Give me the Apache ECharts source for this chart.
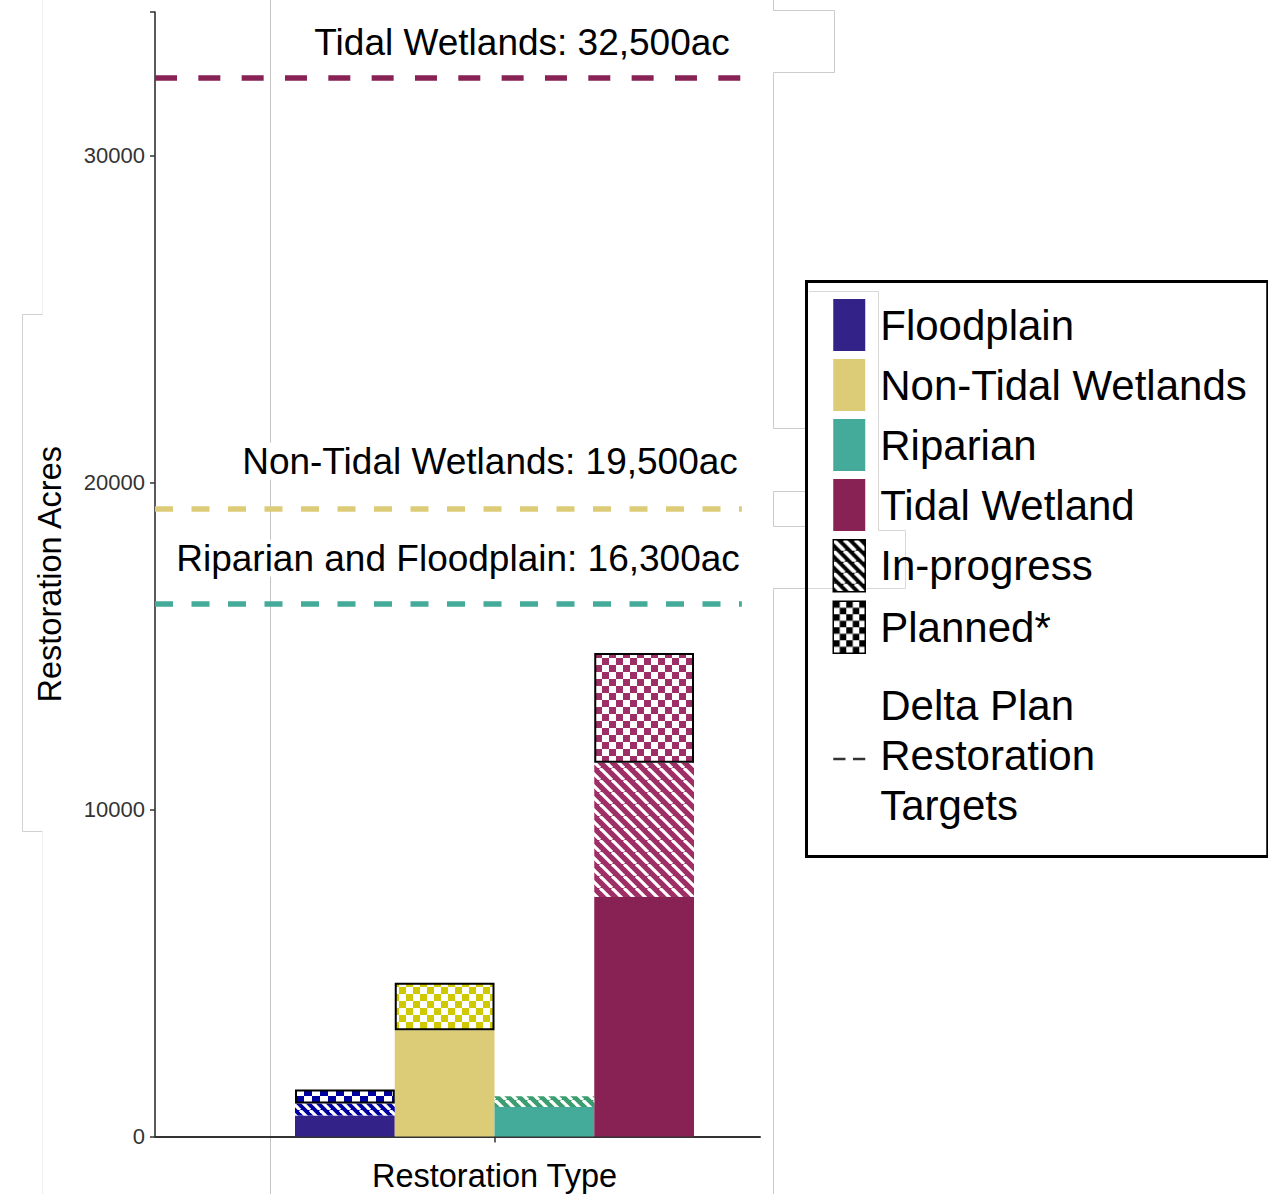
<!DOCTYPE html>
<html><head><meta charset="utf-8">
<script src="https://cdn.jsdelivr.net/npm/echarts@6/dist/echarts.min.js"></script>
<style>html,body{margin:0;padding:0;background:#fff}#c{width:1268px;height:1194px}</style>
</head><body><div id="c"></div>
<script>
// ---- data ----
const categories = ['Floodplain', 'Non-Tidal Wetlands', 'Riparian', 'Tidal Wetland'];
const completed = [640, 3250, 900, 7330];
const inProgress = [370, 0, 330, 4100];
const planned = [430, 1450, 0, 3360];
const targetLabels = ['Tidal Wetlands: 32,500ac', 'Non-Tidal Wetlands: 19,500ac', 'Riparian and Floodplain: 16,300ac'];
const targetValues = [32400, 19200, 16300];
const yTicks = [0, 10000, 20000, 30000];
const legendNames = ['Floodplain', 'Non-Tidal Wetlands', 'Riparian', 'Tidal Wetland', 'In-progress', 'Planned*', 'Delta Plan\nRestoration\nTargets'];

// ---- styles ----
const FONT = '"Liberation Sans", Arial, sans-serif';
const solidColors = ['#332288', '#DDCC77', '#44AA99', '#882255'];
const patternColors = ['#0000a0', '#d0c800', '#3c9e70', '#9e2e66'];
const targetColors = ['#882255', '#DDCC77', '#44AA99'];
const targetDash = [[22, 21.33], [18, 18.5], [18, 18.5]];
const labelDist = [[12, 16], [4, 29], [2, 27]];

function stripes(color, p, w) {
  const c = document.createElement('canvas'); c.width = p; c.height = p;
  const g = c.getContext('2d');
  g.fillStyle = color; g.fillRect(0, 0, p, p);
  g.strokeStyle = '#ffffff'; g.lineWidth = w;
  for (const o of [-p, 0, p]) { g.beginPath(); g.moveTo(o, 0); g.lineTo(o + p, p); g.stroke(); }
  return { image: c, repeat: 'repeat', imageWidth: p, imageHeight: p };
}
function checker(color, cell) {
  const c = document.createElement('canvas'); c.width = 2 * cell; c.height = 2 * cell;
  const g = c.getContext('2d');
  g.fillStyle = '#ffffff'; g.fillRect(0, 0, 2 * cell, 2 * cell);
  g.fillStyle = color; g.fillRect(0, 0, cell, cell); g.fillRect(cell, cell, cell, cell);
  return { image: c, repeat: 'repeat', imageWidth: 2 * cell, imageHeight: 2 * cell };
}
const stripeP = [10, 11, 11, 12];
const checkCell = [8, 7, 7, 7];

const chart = echarts.init(document.getElementById('c'), null, { renderer: 'svg' });
const yMax = 34400;

const barCommon = { type: 'bar', xAxisIndex: 1, yAxisIndex: 1, stack: 'total', barCategoryGap: '0%', barGap: '-100%', animation: false };

const series = [
  Object.assign({}, barCommon, {
    name: 'Completed',
    data: completed.map((v, i) => ({ value: v, itemStyle: { color: solidColors[i] } }))
  }),
  Object.assign({}, barCommon, {
    name: 'In-progress',
    itemStyle: { color: stripes('#000000', 11, 4) },
    data: inProgress.map((v, i) => v ? ({ value: v, itemStyle: { color: stripes(patternColors[i], stripeP[i], 3.2) } }) : '-')
  }),
  Object.assign({}, barCommon, {
    name: 'Planned*',
    itemStyle: { color: checker('#000000', 6.5), borderColor: '#000', borderWidth: 2 },
    data: planned.map((v, i) => v ? ({ value: v, itemStyle: { color: checker(patternColors[i], checkCell[i]), borderColor: '#000', borderWidth: 2 } }) : '-')
  })
];
categories.forEach((n, i) => {
  series.push({ name: n, type: 'bar', xAxisIndex: 1, yAxisIndex: 1, barCategoryGap: '0%', barGap: '-100%', data: [], itemStyle: { color: solidColors[i] } });
});
series.push({
  name: legendNames[6], type: 'scatter', xAxisIndex: 0, yAxisIndex: 0, data: [],
  itemStyle: { color: '#000' },
  markLine: {
    silent: true, symbol: 'none', animation: false,
    data: targetValues.map((v, i) => {
      const ls = { color: targetColors[i], width: 5.5, type: targetDash[i], opacity: 1 };
      const lb = {
        show: true, position: 'insideEndTop', formatter: targetLabels[i], distance: labelDist[i],
        fontSize: 37, color: '#000', fontFamily: FONT, backgroundColor: i === 0 ? 'transparent' : '#fff'
      };
      return [{ xAxis: 0, yAxis: v, lineStyle: ls, label: lb }, { xAxis: 0.97, yAxis: v, lineStyle: ls, label: lb }];
    })
  }
});

const grayLine = '#cccccc';
function pl(points, color) {
  return { type: 'polyline', z: -10, silent: true, shape: { points: points }, style: { stroke: color || grayLine, lineWidth: 1, fill: null } };
}

const dashIcon = 'path://M0,0h0.01v0.01h-0.01z M0,52h0.01v0.01h-0.01z M0,29h13v2.6h-13z M21,29h13v2.6h-13z';

chart.setOption({
  backgroundColor: '#fff',
  animation: false,
  textStyle: { fontFamily: FONT },
  graphic: [
    pl([[270.5, 0], [270.5, 1194]], '#c4c4c4'),
    pl([[773.5, 0], [773.5, 10.5], [834.5, 10.5], [834.5, 72.5], [773.5, 72.5], [773.5, 428.5], [805, 428.5]]),
    pl([[805, 491.5], [773.5, 491.5], [773.5, 526.5], [805, 526.5]]),
    pl([[805, 588.5], [773.5, 588.5], [773.5, 1194]]),
    pl([[809, 291.5], [878.5, 291.5], [878.5, 530.5], [905.5, 530.5], [905.5, 588.5], [808, 588.5]], '#d8d8d8'),
    pl([[42.5, 0], [42.5, 314.5]], '#f0f0f0'),
    pl([[42.5, 314.5], [22.5, 314.5], [22.5, 831.5], [42.5, 831.5]], '#d0d0d0'),
    pl([[42.5, 831.5], [42.5, 1194]], '#f0f0f0')
  ],
  grid: [
    { left: 155, right: 508, top: 12, bottom: 57.5, outerBoundsMode: 'none', containLabel: false },
    { left: 295, width: 399, top: 12, bottom: 57.5, outerBoundsMode: 'none', containLabel: false }
  ],
  xAxis: [
    { gridIndex: 0, type: 'value', min: 0, max: 1, axisLine: { show: true, lineStyle: { color: '#333', width: 2 } },
      axisTick: { show: false }, axisLabel: { show: false }, splitLine: { show: false } },
    { gridIndex: 1, type: 'category', data: categories, boundaryGap: true,
      axisLine: { show: false }, axisLabel: { show: false }, splitLine: { show: false }, axisTick: { show: false },
      name: 'Restoration Type', nameLocation: 'middle', nameGap: 23,
      nameTextStyle: { fontSize: 32.5, color: '#000', fontFamily: FONT } },
    { gridIndex: 1, type: 'value', min: 0, max: categories.length, position: 'bottom',
      axisLine: { show: false }, axisLabel: { show: false }, splitLine: { show: false },
      axisTick: { show: true, length: 6, customValues: [categories.length / 2], lineStyle: { color: '#333', width: 1.5 } } }
  ],
  yAxis: [
    { gridIndex: 0, type: 'value', min: 0, max: yMax, interval: 10000,
      axisLine: { show: true, lineStyle: { color: '#222', width: 1.5 } },
      axisTick: { show: true, length: 5, lineStyle: { color: '#333', width: 1.5 } },
      axisLabel: { margin: 10, fontSize: 22, color: '#333', fontFamily: FONT,
        formatter: (v) => yTicks.indexOf(v) >= 0 ? String(v) : '' },
      splitLine: { show: false },
      name: 'Restoration Acres', nameLocation: 'middle', nameGap: 89,
      nameTextStyle: { fontSize: 32.5, color: '#000', fontFamily: FONT } },
    { gridIndex: 1, type: 'value', min: 0, max: yMax, show: false, splitLine: { show: false } }
  ],
  legend: {
    orient: 'vertical', left: 806.5, top: 281.5,
    padding: [17.5, 21, 8.5, 26],
    borderColor: '#000', borderWidth: 3, backgroundColor: 'transparent',
    itemWidth: 32, itemHeight: 52, itemGap: 8,
    selectedMode: false,
    textStyle: { fontSize: 42, color: '#000', fontFamily: FONT, lineHeight: 32, padding: [20, 0, 0, 10] },
    data: [
      { name: legendNames[0], icon: 'rect' },
      { name: legendNames[1], icon: 'rect' },
      { name: legendNames[2], icon: 'rect' },
      { name: legendNames[3], icon: 'rect' },
      { name: legendNames[4], icon: 'rect', itemStyle: { borderColor: '#000', borderWidth: 1.5 } },
      { name: legendNames[5], icon: 'rect', itemStyle: { borderColor: '#000', borderWidth: 1.5 } },
      { name: legendNames[6], icon: dashIcon, itemStyle: { color: '#000', borderWidth: 0 },
        textStyle: { padding: [36, 0, 0, 10], lineHeight: 50, fontSize: 42 } }
    ]
  },
  series: series
});
</script>
</body></html>
